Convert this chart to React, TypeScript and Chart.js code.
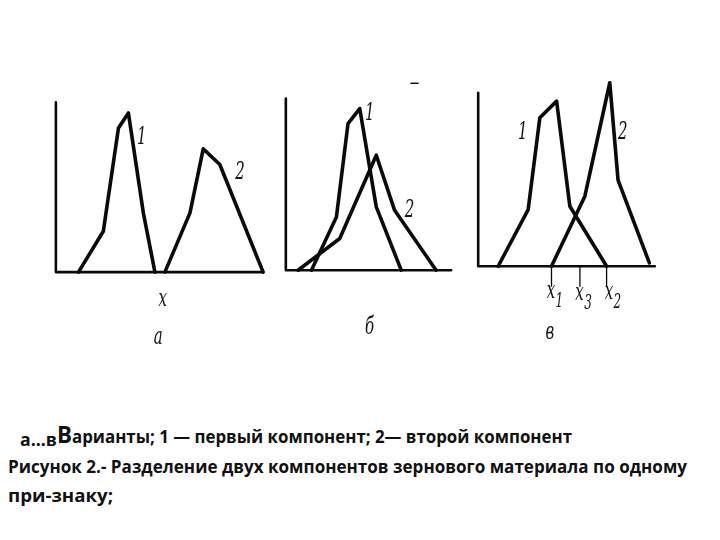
import React, { useEffect, useLayoutEffect, useRef } from "react";
import { Chart, registerables } from "chart.js";
Chart.register(...registerables);

// ---------- data (x: 0..100 along each x-axis, y: 0..100 up each y-axis) ----------
// panel а
const A_C1_X = [10.9, 22.9, 30.2, 35.0, 42.2, 47.8];
const A_C1_Y = [0, 24.1, 84.9, 93.8, 34.9, 0];
const A_C2_X = [52.6, 64.7, 71.1, 79.1, 100];
const A_C2_Y = [0, 34.9, 72.6, 63.4, 0];
// panel б
const B_C1_X = [15.5, 30.6, 37.6, 44.7, 54.7, 69.8];
const B_C1_Y = [0, 31.0, 85.4, 94.2, 36.9, 0];
const B_C2_X = [7.4, 32.6, 54.7, 65.8, 90.9];
const B_C2_Y = [0, 18.5, 67.0, 34.9, 0];
// panel в
const V_C1_X = [11.3, 28.3, 34.9, 44.4, 51.9, 72.7];
const V_C1_Y = [0, 32.7, 85.6, 95.2, 34.6, 0];
const V_C2_X = [41.5, 60.4, 74.5, 79.2, 96.9];
const V_C2_Y = [0, 40.4, 105.8, 49.6, 1.9];
const V_TICKS_X = [41.5, 57.6, 72.7];
const V_TICK_LEN = 11.5;

// axes
const AXIS_X = [0, 0, 100];
const AXIS_Y = [100, 0, 0];

// handwritten labels
const A_LABELS = ["1", "2", "x", "а"];
const A_LABEL_X = [41.4, 88.8, 51.6, 49.4];
const A_LABEL_Y = [79.2, 58.6, -16, -38.5];
const B_LABELS = ["1", "2", "б", "‒"];
const B_LABEL_X = [50.7, 74.8, 50.7, 77.9];
const B_LABEL_Y = [91.4, 34.9, -33.2, 108.9];
const V_LABELS = ["1", "2", "x", "x", "x", "в"];
const V_LABEL_SUB = ["", "", "1", "3", "2", ""];
const V_LABEL_X = [25.3, 81.9, 41.2, 57.4, 74.0, 40.6];
const V_LABEL_Y = [77.1, 77.1, -14.6, -15.8, -15.2, -38.2];

const CAPTION_SUB = "а...в";
const CAPTION_BIG = "В";
const CAPTION_1 = "арианты; 1 — первый компонент; 2— второй компонент";
const CAPTION_2 = "Рисунок 2.- Разделение двух компонентов зернового материала по одному";
const CAPTION_3 = "при-знаку;";

// ---------- helpers ----------
const pts = (xs: number[], ys: number[]) => xs.map((x, i) => ({ x, y: ys[i] }));

const RANGE = { xmin: -12, xmax: 112, ymin: -50, ymax: 112 };

const labelPlugin = {
  id: "handLabels",
  afterDatasetsDraw(chart: any) {
    const items = (chart.options.plugins as any).handLabels?.items || [];
    const { ctx, scales } = chart;
    items.forEach((l: any) => {
      const px = scales.x.getPixelForValue(l.x);
      const py = scales.y.getPixelForValue(l.y);
      const size = 25;
      ctx.save();
      ctx.translate(px, py);
      ctx.scale(0.6, 1);
      ctx.fillStyle = "#151515";
      ctx.textAlign = "center";
      ctx.textBaseline = "middle";
      ctx.font = `italic ${size}px 'DejaVu Serif'`;
      ctx.fillText(l.t, 0, 0);
      if (l.sub) {
        const w = ctx.measureText(l.t).width;
        ctx.font = `italic ${Math.round(size * 0.8)}px 'DejaVu Serif'`;
        ctx.fillText(l.sub, w / 2 + 7, size * 0.4);
      }
      ctx.restore();
    });
  },
};

type PanelProps = {
  ox: number; oy: number; xlen: number; ylen: number;
  series: { x: number[]; y: number[]; w?: number }[];
  labels: { t: string; x: number; y: number; sub?: string }[];
};

function Panel({ ox, oy, xlen, ylen, series, labels }: PanelProps) {
  const ref = useRef<HTMLCanvasElement>(null);
  const sx = xlen / 100;
  const sy = ylen / 100;
  const left = ox + RANGE.xmin * sx;
  const width = (RANGE.xmax - RANGE.xmin) * sx;
  const top = oy - RANGE.ymax * sy;
  const height = (RANGE.ymax - RANGE.ymin) * sy;

  useEffect(() => {
    if (!ref.current) return;
    const chart = new Chart(ref.current, {
      type: "scatter",
      data: {
        datasets: series.map((s) => ({
          data: pts(s.x, s.y),
          showLine: true,
          borderColor: "#0a0a0a",
          backgroundColor: "#0a0a0a",
          borderWidth: s.w ?? 3.6,
          pointRadius: 0,
          tension: 0,
          borderJoinStyle: "round",
          borderCapStyle: "round",
        })),
      },
      options: {
        animation: false,
        responsive: false,
        maintainAspectRatio: false,
        layout: { padding: 0 },
        scales: {
          x: { type: "linear", min: RANGE.xmin, max: RANGE.xmax, display: false },
          y: { type: "linear", min: RANGE.ymin, max: RANGE.ymax, display: false },
        },
        plugins: {
          legend: { display: false },
          tooltip: { enabled: false },
          handLabels: { items: labels },
        } as any,
      },
      plugins: [labelPlugin],
    });
    return () => chart.destroy();
  }, []);

  return (
    <canvas
      ref={ref}
      width={Math.round(width)}
      height={Math.round(height)}
      style={{ position: "absolute", left: Math.round(left), top: Math.round(top), width: Math.round(width), height: Math.round(height) }}
    />
  );
}

function FitText({ text, left, top, width, size, style }: any) {
  const ref = useRef<HTMLSpanElement>(null);
  useLayoutEffect(() => {
    const el = ref.current;
    if (!el) return;
    el.style.transform = "none";
    const w = el.getBoundingClientRect().width;
    if (w > 0) el.style.transform = `scaleX(${width / w})`;
  }, []);
  return (
    <span
      ref={ref}
      style={{
        position: "absolute", left, top, whiteSpace: "nowrap", fontSize: size,
        fontFamily: "'Open Sans', sans-serif", fontWeight: 700, color: "#111",
        transformOrigin: "0 0", lineHeight: 1, ...style,
      }}
    >
      {text}
    </span>
  );
}

export default function App() {
  const axes = { x: AXIS_X, y: AXIS_Y, w: 2.6 };
  const ticks = V_TICKS_X.map((tx) => ({ x: [tx, tx], y: [0, -V_TICK_LEN], w: 1.3 }));
  return (
    <div style={{ position: "absolute", left: 0, top: 0, width: 720, height: 540, background: "#fff", overflow: "hidden" }}>
      <Panel
        ox={55.7} oy={272.7} xlen={207.6} ylen={170}
        series={[axes, { x: A_C1_X, y: A_C1_Y }, { x: A_C2_X, y: A_C2_Y }]}
        labels={A_LABELS.map((t, i) => ({ t, x: A_LABEL_X[i], y: A_LABEL_Y[i] }))}
      />
      <Panel
        ox={286} oy={270} xlen={165.7} ylen={171.7}
        series={[axes, { x: B_C1_X, y: B_C1_Y }, { x: B_C2_X, y: B_C2_Y }]}
        labels={B_LABELS.map((t, i) => ({ t, x: B_LABEL_X[i], y: B_LABEL_Y[i] }))}
      />
      <Panel
        ox={478.3} oy={266.7} xlen={176.7} ylen={173.4}
        series={[axes, ...ticks, { x: V_C1_X, y: V_C1_Y }, { x: V_C2_X, y: V_C2_Y }]}
        labels={V_LABELS.map((t, i) => ({ t, x: V_LABEL_X[i], y: V_LABEL_Y[i], sub: V_LABEL_SUB[i] }))}
      />
      <FitText text={CAPTION_SUB} left={20} top={431} width={37} size={17.5} />
      <FitText text={CAPTION_BIG} left={57} top={423} width={15} size={23} />
      <FitText text={CAPTION_1} left={72} top={428} width={500} size={17.5} />
      <FitText text={CAPTION_2} left={8} top={458} width={679} size={17.5} />
      <FitText text={CAPTION_3} left={8} top={487} width={105} size={17.5} />
    </div>
  );
}
